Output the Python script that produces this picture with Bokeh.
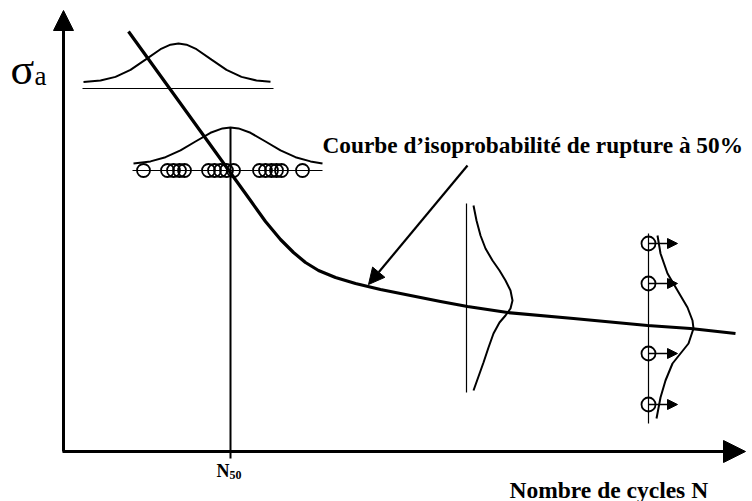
from bokeh.plotting import figure
from bokeh.models import Range1d, Arrow, NormalHead, Label, ColumnDataSource
from bokeh.embed import file_html
from bokeh.resources import INLINE

# ---- schematic data (page pixel coordinates) ----
# 50% isoprobability S-N curve
CURVE_X = [128, 250, 265, 280, 293, 305, 318, 335, 355, 380, 410, 440, 467, 507, 573, 647, 690, 735]
CURVE_Y = [31, 200, 221, 239, 252, 262, 270, 277, 283, 289, 295, 301, 306, 312, 318, 325, 328, 333]

# upper distribution (horizontal bell) and its baseline
BELL1_X = [83, 100, 115, 130, 145, 160, 170, 178, 186, 196, 211, 226, 241, 256, 270]
BELL1_Y = [81.5, 80.0, 76.4, 69.3, 59.1, 48.7, 44.2, 43, 44.2, 48.7, 59.1, 69.3, 76.4, 80.0, 81.3]
BASE1_X = [82, 273]
BASE1_Y = [88, 88]

# distribution at N50 level, with test results (circles)
BELL2_X = [133, 150, 165, 180, 195, 210, 222, 230, 238, 250, 265, 280, 295, 310, 322]
BELL2_Y = [163.0, 160.9, 156.7, 149.9, 141.0, 132.3, 127.9, 127, 127.9, 132.3, 141.0, 149.9, 156.7, 160.9, 163.0]
ROW_X = [132, 322]
ROW_Y = [170, 170]
CIRCLES_X = [143, 167, 173, 179, 184, 208, 214, 220, 226, 233, 259, 265, 271, 276, 281, 302]
CIRCLES_Y = [170] * len(CIRCLES_X)
N50_X = [230, 230]
N50_Y = [127, 458]

# vertical distribution (third)
VLINE3_X = [466, 466]
VLINE3_Y = [203, 392]
BELL3_X = [473, 476, 480, 485, 492, 499, 505, 510, 512, 510, 505, 499, 493, 488, 483, 478, 473]
BELL3_Y = [205, 220, 235, 248, 260, 270, 280, 290, 300, 308, 315, 322, 333, 347, 362, 376, 390]

# vertical distribution with run-outs (fourth)
VLINE4_X = [648, 648]
VLINE4_Y = [233, 423]
BELL4_X = [657, 660, 667, 677, 687, 692, 693, 688, 680, 672, 665, 660, 656]
BELL4_Y = [235, 253, 273, 290, 307, 320, 328, 343, 353, 363, 380, 397, 418]
RUNOUT_X = [648, 648, 648, 648]
RUNOUT_Y = [243, 283, 353, 404]
RUNOUT_END_X = [677, 677, 677, 677]

# texts
Y_LABEL = "σ"
Y_SUB = "a"
X_LABEL = "Nombre de cycles N"
N_LABEL = "N"
N_SUB = "50"
ANNOT = "Courbe d\u2019isoprobabilité de rupture à 50%"

SERIF = "Liberation Serif"

p = figure(width=752, height=501, x_range=Range1d(0, 752), y_range=Range1d(501, 0),
           output_backend="svg", toolbar_location=None, min_border=0,
           x_axis_type=None, y_axis_type=None)
p.grid.visible = False
p.outline_line_color = None
p.background_fill_color = "white"

# axes with arrow heads
p.add_layout(Arrow(end=NormalHead(size=20, fill_color="black", line_color="black", line_width=1),
                   x_start=63, y_start=451, x_end=63, y_end=10, line_width=3, line_color="black"))
p.add_layout(Arrow(end=NormalHead(size=22, fill_color="black", line_color="black", line_width=1),
                   x_start=62, y_start=451, x_end=745, y_end=451, line_width=3, line_color="black"))

# thin reference lines
p.line(BASE1_X, BASE1_Y, line_color="black", line_width=1.2)
p.line(ROW_X, ROW_Y, line_color="black", line_width=1.2)
p.line(VLINE3_X, VLINE3_Y, line_color="black", line_width=1.2)
p.line(VLINE4_X, VLINE4_Y, line_color="black", line_width=1.2)
p.line(N50_X, N50_Y, line_color="black", line_width=2)

# bells
for bx, by in [(BELL1_X, BELL1_Y), (BELL2_X, BELL2_Y), (BELL3_X, BELL3_Y), (BELL4_X, BELL4_Y)]:
    p.line(bx, by, line_color="black", line_width=2)

# main curve
p.line(CURVE_X, CURVE_Y, line_color="black", line_width=3.2, line_join="round")

# test results
p.scatter(CIRCLES_X, CIRCLES_Y, marker="circle", size=13, fill_color=None,
          line_color="black", line_width=1.8)
p.scatter(RUNOUT_X, RUNOUT_Y, marker="circle", size=14, fill_color=None,
          line_color="black", line_width=1.8)
runouts = ColumnDataSource(dict(x0=RUNOUT_X, y0=RUNOUT_Y, x1=RUNOUT_END_X, y1=RUNOUT_Y))
p.add_layout(Arrow(end=NormalHead(size=10, fill_color="black", line_color="black", line_width=1),
                   x_start="x0", y_start="y0", x_end="x1", y_end="y1", source=runouts,
                   line_width=1.6, line_color="black"))

# annotation arrow
p.add_layout(Arrow(end=NormalHead(size=16, fill_color="black", line_color="black", line_width=1),
                   x_start=467, y_start=165, x_end=368, y_end=284, line_width=2.2, line_color="black"))

# texts
p.add_layout(Label(x=10, y=69, text=Y_LABEL, text_font=SERIF, text_font_size="44px",
                   text_color="black", text_baseline="alphabetic"))
p.add_layout(Label(x=34, y=75, text=Y_SUB, text_font=SERIF, text_font_size="27px",
                   text_color="black", text_baseline="alphabetic"))
p.add_layout(Label(x=322, y=144, text=ANNOT, text_font=SERIF, text_font_size="23.3px",
                   text_font_style="bold", text_color="black", text_baseline="alphabetic"))
p.add_layout(Label(x=509, y=489, text=X_LABEL, text_font=SERIF, text_font_size="23.5px",
                   text_font_style="bold", text_color="black", text_baseline="alphabetic"))
p.add_layout(Label(x=216, y=470, text=N_LABEL, text_font=SERIF, text_font_size="18px",
                   text_font_style="bold", text_color="black", text_baseline="alphabetic"))
p.add_layout(Label(x=229, y=474, text=N_SUB, text_font=SERIF, text_font_size="12px",
                   text_font_style="bold", text_color="black", text_baseline="alphabetic"))

open("out.html", "w").write(file_html(p, INLINE))
